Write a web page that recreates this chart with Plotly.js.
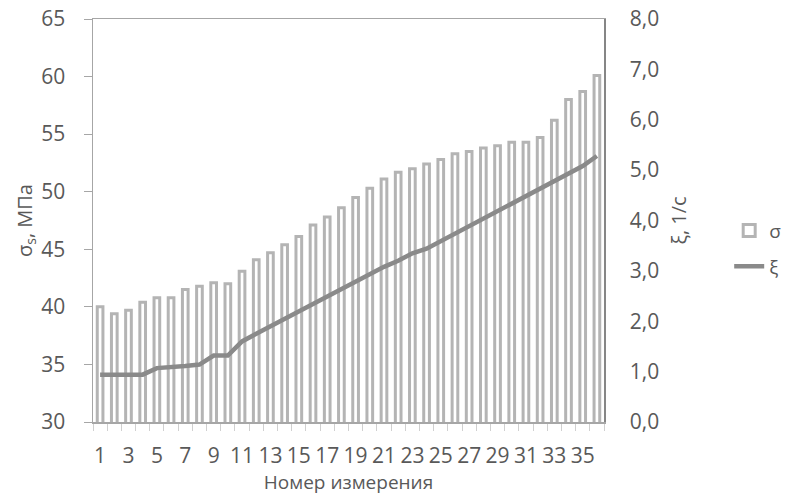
<!DOCTYPE html>
<html>
<head>
<meta charset="utf-8">
<script src="https://cdn.plot.ly/plotly-3.0.1.min.js"></script>
<style>html,body{margin:0;padding:0;background:#fff;}#chart{width:802px;height:495px;}</style>
</head>
<body>
<div id="chart"></div>
<script>
var measureNo = [1,2,3,4,5,6,7,8,9,10,11,12,13,14,15,16,17,18,19,20,21,22,23,24,25,26,27,28,29,30,31,32,33,34,35,36];
var sigmaValues = [40.0,39.4,39.7,40.4,40.8,40.8,41.5,41.8,42.1,42.0,43.1,44.1,44.7,45.4,46.1,47.1,47.8,48.6,49.5,50.3,51.1,51.7,52.0,52.4,52.8,53.3,53.5,53.8,54.0,54.3,54.3,54.7,56.2,58.0,58.7,60.1];
var xiValues = [0.94,0.94,0.94,0.94,1.07,1.08,1.11,1.14,1.32,1.32,1.60,1.75,1.90,2.04,2.19,2.35,2.49,2.64,2.78,2.93,3.08,3.20,3.35,3.44,3.59,3.74,3.89,4.04,4.19,4.35,4.50,4.64,4.79,4.94,5.08,5.28];
var xTickVals = [1,3,5,7,9,11,13,15,17,19,21,23,25,27,29,31,33,35];
var xTickText = ["1","3","5","7","9","11","13","15","17","19","21","23","25","27","29","31","33","35"];
var xBoundaries = [0.5,1.5,2.5,3.5,4.5,5.5,6.5,7.5,8.5,9.5,10.5,11.5,12.5,13.5,14.5,15.5,16.5,17.5,18.5,19.5,20.5,21.5,22.5,23.5,24.5,25.5,26.5,27.5,28.5,29.5,30.5,31.5,32.5,33.5,34.5,35.5,36.5];
var sigmaTicks = [30,35,40,45,50,55,60,65];
var xiTicks = [0,1,2,3,4,5,6,7,8];

var font = {family: "Open Sans, Liberation Sans, sans-serif", size: 21, color: "#595959"};
var titleFont = {family: "Open Sans, Liberation Sans, sans-serif", size: 19, color: "#595959"};
var yTitleFont = {family: "Open Sans, Liberation Sans, sans-serif", size: 20, color: "#595959"};

var traces = [
  {
    type: "bar", name: "σ", x: measureNo, y: sigmaValues, width: 0.4,
    marker: {color: "#ffffff", line: {color: "#b4b4b4", width: 3}},
    yaxis: "y", legendgroup: "a"
  },
  {
    type: "scatter", mode: "lines", name: "ξ", x: measureNo, y: xiValues,
    line: {color: "#8a8a8a", width: 4.5},
    yaxis: "y2", legendgroup: "b"
  }
];

var layout = {
  width: 802, height: 495,
  margin: {l: 93, r: 198, t: 19, b: 73},
  paper_bgcolor: "#ffffff", plot_bgcolor: "#ffffff",
  font: font,
  separators: ", ",
  showlegend: true,
  legend: {x: 1.245, y: 0.43, xanchor: "left", yanchor: "middle", font: titleFont,
           traceorder: "grouped", tracegroupgap: 8, itemwidth: 30, bgcolor: "rgba(0,0,0,0)"},
  xaxis: {
    range: [0.5, 36.5], tickmode: "array", tickvals: xTickVals, ticktext: xTickText,
    ticks: "", showgrid: false, zeroline: false,
    showline: true, linecolor: "#a6a6a6", linewidth: 1.5, mirror: true,
    tickfont: font, ticklabelstandoff: 14,
    minor: {tickmode: "array", tickvals: xBoundaries, ticks: "outside", ticklen: 7, tickcolor: "#d0d0d0", tickwidth: 1, showgrid: false},
    title: {text: "Номер измерения", font: titleFont, standoff: 5}
  },
  yaxis: {
    range: [30, 65], tickmode: "array", tickvals: sigmaTicks,
    ticks: "outside", ticklen: 8, tickcolor: "#a6a6a6",
    showgrid: false, zeroline: false,
    showline: true, linecolor: "#a6a6a6", linewidth: 1.5, mirror: true,
    tickfont: font, ticklabelstandoff: 14,
    title: {text: "σ<sub>s</sub>, МПа", font: yTitleFont, standoff: 3}
  },
  yaxis2: {
    range: [0, 8], overlaying: "y", side: "right",
    tickmode: "array", tickvals: xiTicks, tickformat: ".1f",
    ticks: "", showgrid: false, zeroline: false,
    showline: true, linecolor: "#868686", linewidth: 1.5,
    tickfont: font, ticklabelstandoff: 20,
    title: {text: "ξ, 1/с", font: yTitleFont, standoff: 14}
  }
};

Plotly.newPlot("chart", traces, layout, {displayModeBar: false, staticPlot: true});
</script>
</body>
</html>
